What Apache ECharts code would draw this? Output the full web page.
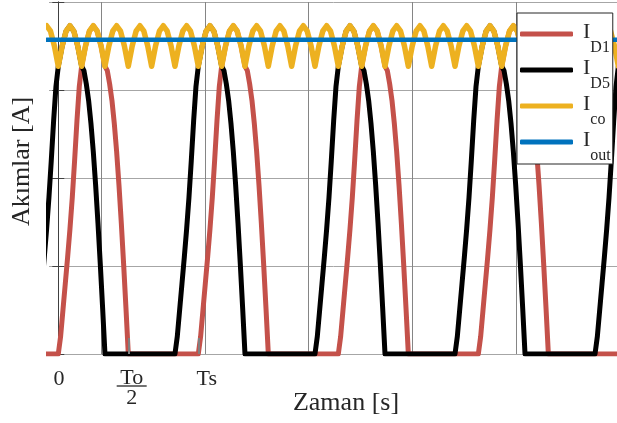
<!DOCTYPE html>
<html><head><meta charset="utf-8">
<script src="https://cdn.jsdelivr.net/npm/echarts@6/dist/echarts.min.js"></script>
<style>html,body{margin:0;padding:0;background:#fff}#c{width:617px;height:423px}</style>
</head><body><div id="c"></div>
<script>
// x unit: one capacitor-ripple pulse (Ts = 6 pulses), y unit: one grid step
const seriesNames = ['ID1', 'ID5', 'Ico', 'Iout'];
const legendSubs = ['D1', 'D5', 'co', 'out'];
const tickValues = [3, 6];                 // To/2, Ts tick marks
const labelValues = [0.03, 3.145, 6.36];   // label anchors
const tickLabels = ['0', 'To/2', 'Ts'];
const gridValues = [1.83, 6.277, 10.724, 15.171, 19.618, 24.065];

const icoX = [
  -0.5,-0.333,-0.167,
  0,0.167,0.333,0.5,0.667,0.833,
  1,1.167,1.333,1.5,1.667,1.833,
  2,2.167,2.333,2.5,2.667,2.833,
  3,3.167,3.333,3.5,3.667,3.833,
  4,4.167,4.333,4.5,4.667,4.833,
  5,5.167,5.333,5.5,5.667,5.833,
  6,6.167,6.333,6.5,6.667,6.833,
  7,7.167,7.333,7.5,7.667,7.833,
  8,8.167,8.333,8.5,8.667,8.833,
  9,9.167,9.333,9.5,9.667,9.833,
  10,10.167,10.333,10.5,10.667,10.833,
  11,11.167,11.333,11.5,11.667,11.833,
  12,12.167,12.333,12.5,12.667,12.833,
  13,13.167,13.333,13.5,13.667,13.833,
  14,14.167,14.333,14.5,14.667,14.833,
  15,15.167,15.333,15.5,15.667,15.833,
  16,16.167,16.333,16.5,16.667,16.833,
  17,17.167,17.333,17.5,17.667,17.833,
  18,18.167,18.333,18.5,18.667,18.833,
  19,19.167,19.333,19.5,19.667,19.833,
  20,20.167,20.333,20.5,20.667,20.833,
  21,21.167,21.333,21.5,21.667,21.833,
  22,22.167,22.333,22.5,22.667,22.833,
  23,23.167,23.333,23.5,23.667,23.833,
  24,24.167,24.333,24.5
];
const icoY = [
  3.73,3.668,3.5,
  3.27,3.5,3.668,3.73,3.668,3.5,
  3.27,3.5,3.668,3.73,3.668,3.5,
  3.27,3.5,3.668,3.73,3.668,3.5,
  3.27,3.5,3.668,3.73,3.668,3.5,
  3.27,3.5,3.668,3.73,3.668,3.5,
  3.27,3.5,3.668,3.73,3.668,3.5,
  3.27,3.5,3.668,3.73,3.668,3.5,
  3.27,3.5,3.668,3.73,3.668,3.5,
  3.27,3.5,3.668,3.73,3.668,3.5,
  3.27,3.5,3.668,3.73,3.668,3.5,
  3.27,3.5,3.668,3.73,3.668,3.5,
  3.27,3.5,3.668,3.73,3.668,3.5,
  3.27,3.5,3.668,3.73,3.668,3.5,
  3.27,3.5,3.668,3.73,3.668,3.5,
  3.27,3.5,3.668,3.73,3.668,3.5,
  3.27,3.5,3.668,3.73,3.668,3.5,
  3.27,3.5,3.668,3.73,3.668,3.5,
  3.27,3.5,3.668,3.73,3.668,3.5,
  3.27,3.5,3.668,3.73,3.668,3.5,
  3.27,3.5,3.668,3.73,3.668,3.5,
  3.27,3.5,3.668,3.73,3.668,3.5,
  3.27,3.5,3.668,3.73,3.668,3.5,
  3.27,3.5,3.668,3.73,3.668,3.5,
  3.27,3.5,3.668,3.73,3.668,3.5,
  3.27,3.5,3.668,3.73
];
const id1 = [
  [-0.5,0],
  [0,0],[0.1,0.2],[0.2,0.5],[0.3,0.8],[0.4,1.1],[0.5,1.42],[0.6,1.78],[0.7,2.2],[0.8,2.65],[0.9,3.04],[1,3.27],
  [1.167,3.5],[1.333,3.668],[1.5,3.73],[1.667,3.668],[1.833,3.5],[2,3.27],
  [2.1,3.22],[2.2,3.07],[2.3,2.88],[2.4,2.62],[2.5,2.3],[2.6,1.92],[2.7,1.49],[2.8,1.02],[2.9,0.52],[3,0],
  [6,0],[6.1,0.2],[6.2,0.5],[6.3,0.8],[6.4,1.1],[6.5,1.42],[6.6,1.78],[6.7,2.2],[6.8,2.65],[6.9,3.04],[7,3.27],
  [7.167,3.5],[7.333,3.668],[7.5,3.73],[7.667,3.668],[7.833,3.5],[8,3.27],
  [8.1,3.22],[8.2,3.07],[8.3,2.88],[8.4,2.62],[8.5,2.3],[8.6,1.92],[8.7,1.49],[8.8,1.02],[8.9,0.52],[9,0],
  [12,0],[12.1,0.2],[12.2,0.5],[12.3,0.8],[12.4,1.1],[12.5,1.42],[12.6,1.78],[12.7,2.2],[12.8,2.65],[12.9,3.04],[13,3.27],
  [13.167,3.5],[13.333,3.668],[13.5,3.73],[13.667,3.668],[13.833,3.5],[14,3.27],
  [14.1,3.22],[14.2,3.07],[14.3,2.88],[14.4,2.62],[14.5,2.3],[14.6,1.92],[14.7,1.49],[14.8,1.02],[14.9,0.52],[15,0],
  [18,0],[18.1,0.2],[18.2,0.5],[18.3,0.8],[18.4,1.1],[18.5,1.42],[18.6,1.78],[18.7,2.2],[18.8,2.65],[18.9,3.04],[19,3.27],
  [19.167,3.5],[19.333,3.668],[19.5,3.73],[19.667,3.668],[19.833,3.5],[20,3.27],
  [20.1,3.22],[20.2,3.07],[20.3,2.88],[20.4,2.62],[20.5,2.3],[20.6,1.92],[20.7,1.49],[20.8,1.02],[20.9,0.52],[21,0],
  [24.5,0]
];
const id5 = [
  [-1,0],[-0.9,0.2],[-0.8,0.5],[-0.7,0.8],[-0.6,1.1],[-0.5,1.42],[-0.4,1.78],[-0.3,2.2],[-0.2,2.65],[-0.1,3.04],[0,3.27],
  [0.167,3.5],[0.333,3.668],[0.5,3.73],[0.667,3.668],[0.833,3.5],[1,3.27],
  [1.1,3.22],[1.2,3.07],[1.3,2.88],[1.4,2.62],[1.5,2.3],[1.6,1.92],[1.7,1.49],[1.8,1.02],[1.9,0.52],[2,0],
  [5,0],[5.1,0.2],[5.2,0.5],[5.3,0.8],[5.4,1.1],[5.5,1.42],[5.6,1.78],[5.7,2.2],[5.8,2.65],[5.9,3.04],[6,3.27],
  [6.167,3.5],[6.333,3.668],[6.5,3.73],[6.667,3.668],[6.833,3.5],[7,3.27],
  [7.1,3.22],[7.2,3.07],[7.3,2.88],[7.4,2.62],[7.5,2.3],[7.6,1.92],[7.7,1.49],[7.8,1.02],[7.9,0.52],[8,0],
  [11,0],[11.1,0.2],[11.2,0.5],[11.3,0.8],[11.4,1.1],[11.5,1.42],[11.6,1.78],[11.7,2.2],[11.8,2.65],[11.9,3.04],[12,3.27],
  [12.167,3.5],[12.333,3.668],[12.5,3.73],[12.667,3.668],[12.833,3.5],[13,3.27],
  [13.1,3.22],[13.2,3.07],[13.3,2.88],[13.4,2.62],[13.5,2.3],[13.6,1.92],[13.7,1.49],[13.8,1.02],[13.9,0.52],[14,0],
  [17,0],[17.1,0.2],[17.2,0.5],[17.3,0.8],[17.4,1.1],[17.5,1.42],[17.6,1.78],[17.7,2.2],[17.8,2.65],[17.9,3.04],[18,3.27],
  [18.167,3.5],[18.333,3.668],[18.5,3.73],[18.667,3.668],[18.833,3.5],[19,3.27],
  [19.1,3.22],[19.2,3.07],[19.3,2.88],[19.4,2.62],[19.5,2.3],[19.6,1.92],[19.7,1.49],[19.8,1.02],[19.9,0.52],[20,0],
  [23,0],[23.1,0.2],[23.2,0.5],[23.3,0.8],[23.4,1.1],[23.5,1.42],[23.6,1.78],[23.7,2.2],[23.8,2.65],[23.9,3.04],[24,3.27],
  [24.167,3.5],[24.333,3.668],[24.5,3.73]
];
const iout = [[-0.5,3.57],[24.5,3.57]];

const FONT = "'Liberation Serif','Times New Roman',serif";
const TXT = '#262626';
const COLORS = ['#C4514A', '#000000', '#EDB120', '#0072BD'];

const ico = icoX.map((x, i) => [x, icoY[i]]);
const dataSets = [id1, id5, ico, iout];
const widths = [5, 5, 5.5, 4.5];

const chart = echarts.init(document.getElementById('c'), null, {renderer: 'canvas'});
chart.setOption({
  animation: false,
  backgroundColor: '#fff',
  grid: {left: 49, top: 2, right: -3, bottom: 69, containLabel: false, outerBoundsMode: 'none'},
  xAxis: [{
    type: 'value', position: 'bottom', min: -0.398, max: 24.07, z: 5,
    axisLine: {show: false},
    axisTick: {show: true, inside: true, length: 16, customValues: tickValues, lineStyle: {color: '#7f7f7f', width: 2}},
    axisLabel: {
      show: true, customValues: labelValues, margin: 18, color: TXT, fontFamily: FONT, fontSize: 22,
      formatter: v => {
        const i = labelValues.indexOf(v);
        const t = tickLabels[i] || '';
        if (t.indexOf('/') > 0) {
          const p = t.split('/');
          return '{n|' + p[0] + '}\n{bar| }\n{d|' + p[1] + '}';
        }
        return '{a|' + t + '}';
      },
      rich: {
        a: {fontFamily: FONT, fontSize: 22, color: TXT, lineHeight: 15},
        n: {fontFamily: FONT, fontSize: 22, color: TXT, lineHeight: 12},
        bar: {width: 30, height: 1.3, lineHeight: 4, backgroundColor: TXT, fontSize: 2},
        d: {fontFamily: FONT, fontSize: 22, color: TXT, lineHeight: 20}
      }
    },
    splitLine: {show: false},
    name: 'Zaman [s]', nameLocation: 'middle', nameGap: 36, nameMoveOverlap: false,
    nameTextStyle: {fontFamily: FONT, fontSize: 26, color: TXT, padding: [0, 0, 0, 23]}
  }, {
    type: 'value', position: 'top', min: -0.398, max: 24.07,
    axisLine: {show: false},
    axisTick: {show: false, customValues: gridValues},
    axisLabel: {show: false},
    splitLine: {show: true, lineStyle: {color: '#858585', width: 1}}
  }],
  yAxis: [{
    type: 'value', position: 'left', min: 0, max: 4, interval: 1,
    axisLine: {show: true, lineStyle: {color: '#808080'}},
    axisTick: {show: true, inside: true, length: 6, lineStyle: {color: '#404040'}},
    axisLabel: {show: false},
    splitLine: {show: true, lineStyle: {color: '#a6a6a6', width: 1}},
    name: 'Akımlar [A]', nameLocation: 'middle', nameGap: 14, nameMoveOverlap: false,
    nameTextStyle: {fontFamily: FONT, fontSize: 26, color: TXT, padding: [0, 0, 0, 33]}
  }, {
    type: 'value', position: 'right', min: 0, max: 4, interval: 1,
    axisLine: {show: true, lineStyle: {color: '#404040'}},
    axisTick: {show: true, inside: true, length: 6, lineStyle: {color: '#404040'}},
    axisLabel: {show: false},
    splitLine: {show: false}
  }],
  legend: {
    orient: 'vertical', left: 517, top: 13, padding: [8, 2, 0, 3], itemGap: 1,
    itemWidth: 53, itemHeight: 5, icon: 'roundRect',
    backgroundColor: '#fff', borderColor: TXT, borderWidth: 1, borderRadius: 0,
    data: seriesNames,
    formatter: name => '{i|I}{s|' + legendSubs[seriesNames.indexOf(name)] + '}',
    textStyle: {
      rich: {
        i: {fontFamily: FONT, fontSize: 22, color: TXT, verticalAlign: 'top', padding: [9, 0, 0, 5]},
        s: {fontFamily: FONT, fontSize: 16, color: TXT, verticalAlign: 'top', padding: [28, 0, 0, 0]}
      }
    }
  },
  series: seriesNames.map((n, i) => ({
    name: n, type: 'line', xAxisIndex: 0, yAxisIndex: 0,
    data: dataSets[i], symbol: 'none', showSymbol: false,
    lineStyle: {width: widths[i], color: COLORS[i], cap: 'round', join: 'round'},
    itemStyle: {color: COLORS[i]},
    emphasis: {disabled: true}
  }))
});
</script></body></html>
